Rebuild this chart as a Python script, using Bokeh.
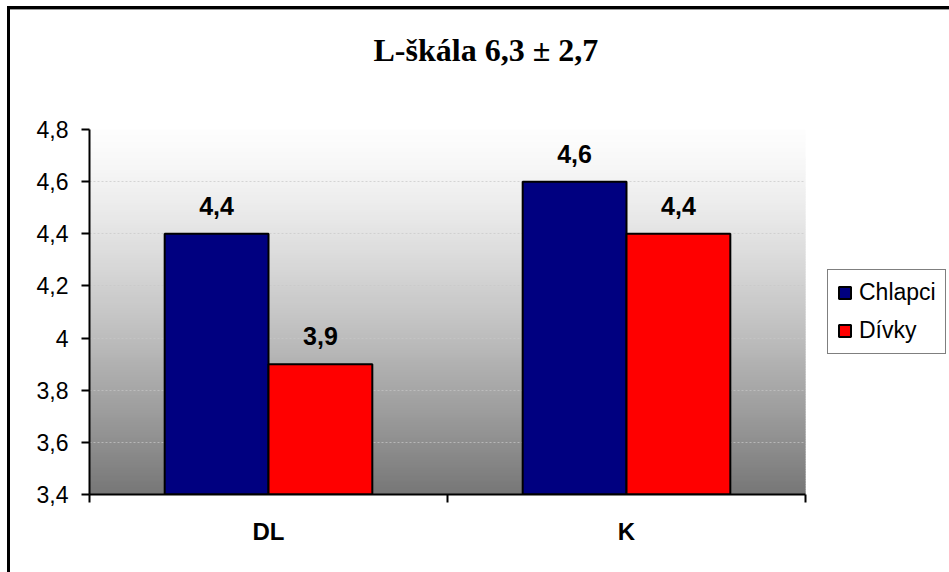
import numpy as np
from bokeh.plotting import figure
from bokeh.models import (Range1d, FixedTicker, CustomJSTickFormatter, Legend, LegendItem,
                          ColumnDataSource, InlineStyleSheet, Title)
from bokeh.transform import dodge
from bokeh.core.properties import value
from bokeh.embed import file_html
from bokeh.resources import INLINE

# --- chart data -------------------------------------------------------------
title_text = "L-škála 6,3 ± 2,7"
categories = ["DL", "K"]
series_names = ["Chlapci", "Dívky"]
chlapci = [4.4, 4.6]
divky = [3.9, 4.4]
series_colors = ["#000080", "#FF0000"]
y_ticks = [3.4, 3.6, 3.8, 4.0, 4.2, 4.4, 4.6, 4.8]
y_tick_labels = ["3,4", "3,6", "3,8", "4", "4,2", "4,4", "4,6", "4,8"]
y_start, y_end = 3.4, 4.8

SANS = "Liberation Sans"
SERIF = "Liberation Serif"


def fmt(v):
    return f"{v:.1f}".replace(".", ",")


n_cat = len(categories)
centres = [i + 0.5 for i in range(n_cat)]      # category slot centres
edges = list(range(n_cat + 1))                  # category slot boundaries

source = ColumnDataSource(dict(
    pos=centres,
    chlapci=chlapci,
    divky=divky,
    chlapci_lbl=[fmt(v) for v in chlapci],
    divky_lbl=[fmt(v) for v in divky],
))

p = figure(
    x_range=Range1d(0, n_cat),
    y_range=Range1d(y_start, y_end),
    frame_width=716, frame_height=365,
    min_border_left=89, min_border_right=144,
    min_border_top=129, min_border_bottom=78,
    output_backend="svg", toolbar_location=None,
    title=title_text,
)
p.outline_line_color = None
p.border_fill_color = "white"
p.background_fill_color = "white"
p.xgrid.visible = False

# outer chart border: left and top edges of a frame around the whole chart
p.stylesheets = [InlineStyleSheet(css="""
:host { position: relative; }
:host::after {
  content: ""; position: absolute; left: 7px; top: 6px; right: 0; bottom: 0;
  border-left: 3px solid #000; border-top: 3px solid #000;
  box-shadow: inset 0 1px 0 #9a9a9a; pointer-events: none;
}
""")]

# title
p.title.align = "left"
p.title.offset = 284
p.title.vertical_align = "top"
p.title.standoff = 62
p.title.text_font = SERIF
p.title.text_font_size = "32px"
p.title.text_font_style = "bold"
p.title.text_color = "black"

# blank spacer between the title and the plot area
p.add_layout(Title(text=" ", text_font_size="1px", standoff=26), "above")

# vertical gradient behind the bars (white at top, grey at bottom)
n_strips = 146
ys = np.linspace(y_start, y_end, n_strips + 1)
mid = (ys[:-1] + ys[1:]) / 2
frac = (y_end - mid) / (y_end - y_start)
grey = (253 - 135 * frac ** 1.3).round().astype(int)
strip_colors = ["#%02x%02x%02x" % (g, g, g) for g in grey]
p.quad(left=edges[0], right=edges[-1], bottom=ys[:-1], top=ys[1:],
       fill_color=strip_colors, line_color=strip_colors, line_width=1, level="image")

# y axis and grid
yax = p.yaxis[0]
yax.ticker = FixedTicker(ticks=y_ticks)
yax.formatter = CustomJSTickFormatter(
    args=dict(y_vals=y_ticks, y_lbls=y_tick_labels),
    code="const i = y_vals.findIndex(t => Math.abs(t - tick) < 1e-9); return i >= 0 ? y_lbls[i] : '';")
yax.major_tick_in = 0
yax.major_tick_out = 8
yax.minor_tick_line_color = None
yax.axis_line_width = 2
yax.major_tick_line_width = 2
yax.major_label_standoff = 13
yax.major_label_text_font = SANS
yax.major_label_text_font_size = "23px"
yax.major_label_text_color = "black"

p.ygrid.ticker = FixedTicker(ticks=y_ticks)
p.ygrid.grid_line_color = "#c8c8c8"
p.ygrid.grid_line_alpha = 0.7
p.ygrid.grid_line_dash = "2 2"

# x axis: tick marks on slot boundaries, category names at slot centres
xax = p.xaxis[0]
xax.ticker = FixedTicker(ticks=centres, minor_ticks=edges)
xax.formatter = CustomJSTickFormatter(
    args=dict(cats=categories),
    code="const i = Math.floor(tick); return (i >= 0 && i < cats.length) ? cats[i] : '';")
xax.major_tick_line_color = None
xax.major_tick_in = 0
xax.major_tick_out = 0
xax.minor_tick_in = 0
xax.minor_tick_out = 8
xax.minor_tick_line_width = 2
xax.minor_tick_line_color = "black"
xax.axis_line_width = 2
xax.major_label_standoff = 15
xax.major_label_text_font = SANS
xax.major_label_text_font_size = "24px"
xax.major_label_text_font_style = "bold"
xax.major_label_text_color = "black"

# bars
bar_w = 0.29
r_ch = p.vbar(x=dodge("pos", -bar_w / 2), top="chlapci", bottom=y_start,
              width=bar_w, source=source, fill_color=series_colors[0],
              line_color="black", line_width=2)
r_dv = p.vbar(x=dodge("pos", bar_w / 2), top="divky", bottom=y_start,
              width=bar_w, source=source, fill_color=series_colors[1],
              line_color="black", line_width=2)

# value labels above bars
for off, col in ((-bar_w / 2, "chlapci"), (bar_w / 2, "divky")):
    p.text(x=dodge("pos", off), y=col, text=col + "_lbl", source=source,
           text_align="center", text_baseline="alphabetic", y_offset=-28,
           text_font=value(SANS), text_font_style="bold", text_font_size="25px",
           text_color="black")

# legend in the right-hand panel
legend = Legend(
    items=[LegendItem(label=series_names[0], renderers=[r_ch]),
           LegendItem(label=series_names[1], renderers=[r_dv])],
    location=(22, 140),
    glyph_width=15, glyph_height=15, label_standoff=7,
    padding=9, spacing=11, margin=0,
    label_text_font=SANS, label_text_font_size="23px", label_text_color="black",
    border_line_color="black", border_line_width=1,
    background_fill_color="white", background_fill_alpha=1,
)
p.add_layout(legend, "right")

open("out.html", "w").write(file_html(p, INLINE))
